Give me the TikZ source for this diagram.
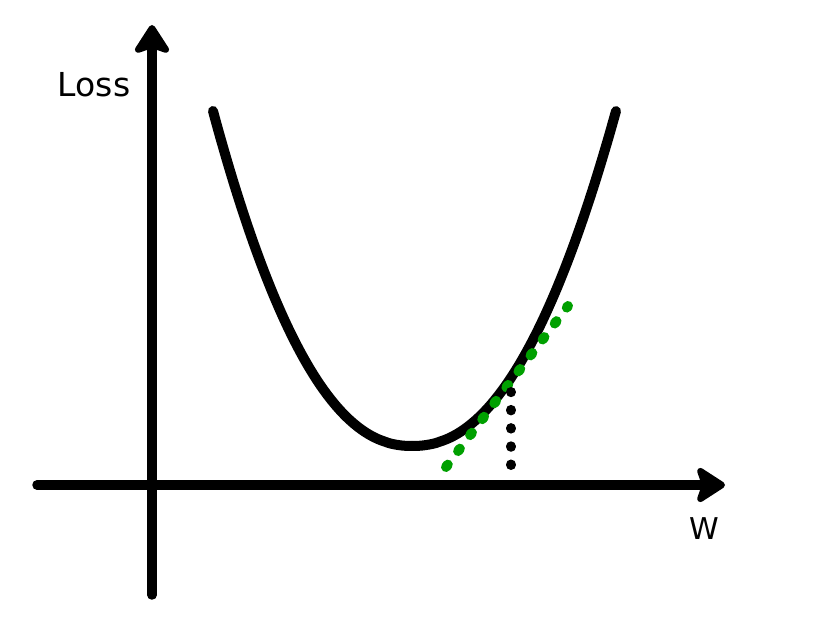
\documentclass[tikz,border=0pt]{standalone}
\usepackage{fontspec}
\setmainfont{DejaVu Sans}
\usetikzlibrary{arrows.meta}
\tikzset{
  axis/.style={line width=9.5pt, line cap=round, -{Stealth[round, length=33pt, width=42pt, inset=7pt]}},
  curveline/.style={line width=10pt, line cap=round},
  greendots/.style={line width=10pt, line cap=round, draw={rgb,255:red,0;green,160;blue,0}, dash pattern=on 3pt off 17pt},
  blackdots/.style={line width=10pt, line cap=round, draw=black, dash pattern=on 0.5pt off 17.7pt},
  lbl/.style={inner sep=0pt, font=\fontsize{33}{36}\selectfont}
}
\begin{document}
\begin{tikzpicture}[x=1pt, y=-1pt]
\useasboundingbox (0,0) rectangle (820,644);
\coordinate (xs) at (37,485);
\coordinate (xe) at (725,485);
\coordinate (ys) at (152,595);
\coordinate (ye) at (152,25);
\draw[axis] (xs) -- (xe);
\draw[axis] (ys) -- (ye);
\node[lbl] (loss) at (94,85) {Loss};
\node[lbl, font=\fontsize{30}{33}\selectfont] (w) at (704,529) {W};
\draw[curveline] plot[domain=213:412, samples=60, smooth] (\x, {446 - 335*pow((412-\x)/199,2.2)});
\draw[curveline] plot[domain=412:616, samples=60, smooth] (\x, {446 - 335*pow((\x-412)/204,2.2)});
\coordinate (g1) at (446,467);
\coordinate (g2) at (568,306);
\draw[greendots] (g1) -- (g2);
\coordinate (b1) at (511,465);
\coordinate (b2) at (511,392);
\draw[blackdots] (b1) -- (b2);
\end{tikzpicture}
\end{document}
